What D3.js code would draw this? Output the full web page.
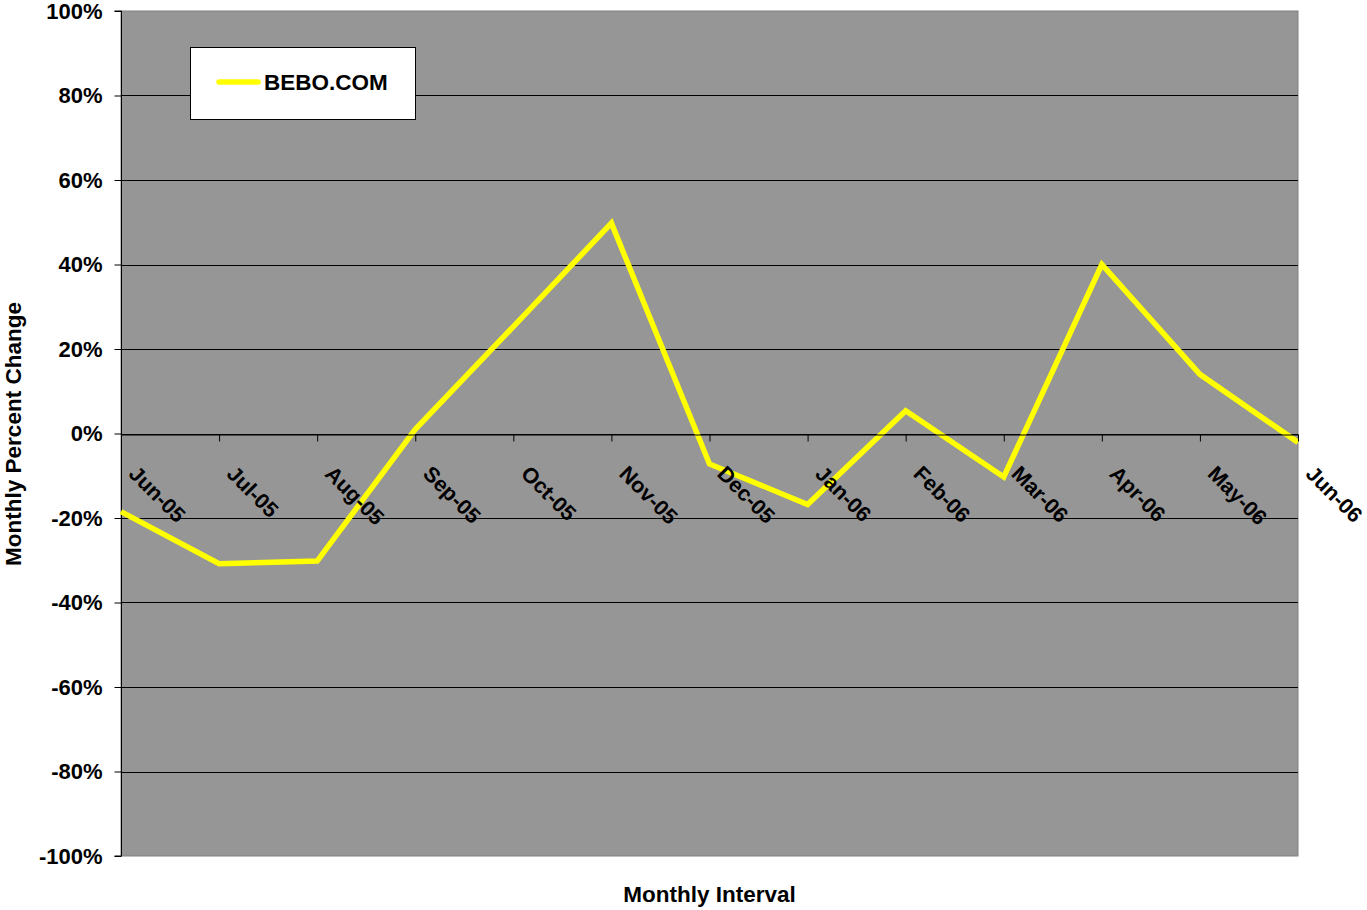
<!DOCTYPE html>
<html>
<head>
<meta charset="utf-8">
<script src="https://cdn.jsdelivr.net/npm/d3@7"></script>
<style>
  html, body { margin: 0; padding: 0; background: #fff; }
  svg { display: block; }
  text { font-family: Arial, "Liberation Sans", sans-serif; font-weight: bold; fill: #000; }
</style>
</head>
<body>
<svg id="chart" width="1367" height="910"></svg>
<script>
const categories = ["Jun-05","Jul-05","Aug-05","Sep-05","Oct-05","Nov-05","Dec-05","Jan-06","Feb-06","Mar-06","Apr-06","May-06","Jun-06"];
const seriesName = "BEBO.COM";
const values = [-18.5, -30.8, -30.2, 1.0, 25.3, 49.8, -7.2, -16.8, 5.4, -10.3, 40.0, 14.0, -2.1];
const yTicks = [-100, -80, -60, -40, -20, 0, 20, 40, 60, 80, 100];
const xTitle = "Monthly Interval";
const yTitle = "Monthly Percent Change";

const svg = d3.select("#chart");
const W = 1367, H = 910;
const plot = { left: 121, right: 1298, top: 11, bottom: 856 };

svg.append("rect").attr("width", W).attr("height", H).attr("fill", "#fff");

const x = d3.scalePoint().domain(categories).range([plot.left, plot.right]);
const y = d3.scaleLinear().domain([-100, 100]).range([plot.bottom, plot.top]);

// plot background
svg.append("rect")
  .attr("x", plot.left).attr("y", plot.top)
  .attr("width", plot.right - plot.left).attr("height", plot.bottom - plot.top)
  .attr("fill", "#969696").attr("stroke", "#808080").attr("stroke-width", 1);

// gridlines
svg.append("g").selectAll("line")
  .data(yTicks.filter(d => d > -100 && d < 100))
  .join("line")
  .attr("x1", plot.left).attr("x2", plot.right)
  .attr("y1", d => Math.round(y(d)) + 0.5).attr("y2", d => Math.round(y(d)) + 0.5)
  .attr("stroke", "#000").attr("stroke-width", 1);

// y axis
const yAxis = svg.append("g")
  .attr("transform", `translate(${plot.left + 0.5},0)`)
  .call(d3.axisLeft(y).tickValues(yTicks).tickSize(7).tickPadding(12).tickFormat(d => d + "%"));
yAxis.select(".domain").attr("stroke", "#000").attr("d", `M-7,${plot.top}H0V${plot.bottom}H-7`);
yAxis.selectAll(".tick line").attr("stroke", "#000");
yAxis.selectAll("text").style("font-size", "22px").attr("font-family", null);

// line
const line = d3.line().x((d, i) => x(categories[i])).y(d => y(d));
svg.append("path")
  .datum(values)
  .attr("d", line)
  .attr("fill", "none")
  .attr("stroke", "#ffff00")
  .attr("stroke-width", 5.5)
  .attr("stroke-linejoin", "miter");

// x axis at 0
const xAxis = svg.append("g")
  .attr("transform", `translate(0,${Math.round(y(0)) + 0.5})`)
  .call(d3.axisBottom(x).tickSize(7).tickSizeOuter(0));
xAxis.select(".domain").attr("stroke", "#000");
xAxis.selectAll(".tick line").attr("stroke", "#000");
xAxis.selectAll("text")
  .attr("x", 0).attr("y", 0).attr("dy", 0)
  .attr("transform", "translate(6,40.5) rotate(45)")
  .style("text-anchor", "start")
  .style("font-size", "21.5px");

// legend
const lg = svg.append("g");
lg.append("rect").attr("x", 190.5).attr("y", 47.5).attr("width", 225).attr("height", 72)
  .attr("fill", "#fff").attr("stroke", "#000").attr("stroke-width", 1);
lg.append("line").attr("x1", 219).attr("x2", 258).attr("y1", 82).attr("y2", 82)
  .attr("stroke", "#ffff00").attr("stroke-width", 5.5).attr("stroke-linecap", "round");
lg.append("text").attr("x", 264).attr("y", 90).style("font-size", "22.5px").text(seriesName);

// axis titles
svg.append("text").attr("x", (plot.left + plot.right) / 2).attr("y", 902)
  .attr("text-anchor", "middle").style("font-size", "22.5px").text(xTitle);
svg.append("text").attr("transform", "translate(21,434) rotate(-90)")
  .attr("text-anchor", "middle").style("font-size", "22.5px").text(yTitle);
</script>
</body>
</html>
